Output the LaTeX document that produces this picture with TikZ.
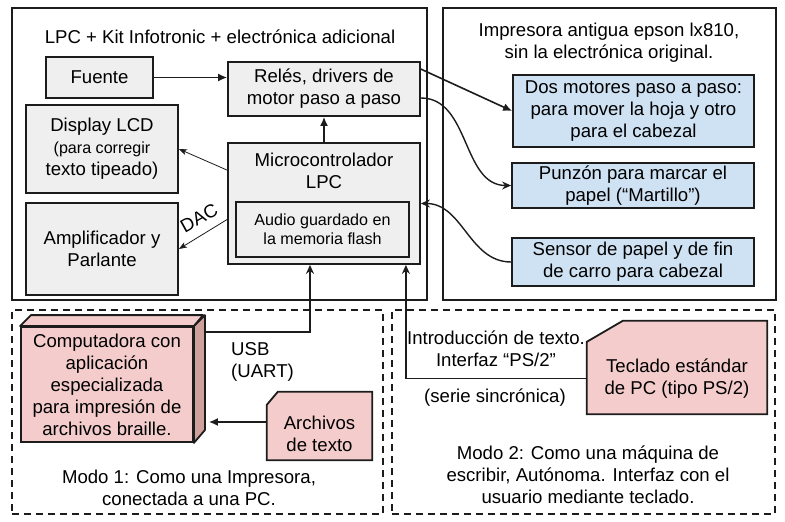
\documentclass[tikz,border=0pt]{standalone}
\usepackage{fontspec}
\setmainfont{Liberation Sans}
\usepackage{xcolor}
\usetikzlibrary{arrows,shapes,positioning,fit,arrows.meta,backgrounds,calc}
\definecolor{grisclaro}{HTML}{EFEFEF}
\definecolor{celeste}{HTML}{CFE2F3}
\definecolor{rosa}{HTML}{F4CCCC}
\definecolor{rosaosc}{HTML}{CFA19D}
\definecolor{borde}{HTML}{1C1C1C}
\newcommand{\txtgrande}{\fontsize{18.6}{22}\selectfont}
\newcommand{\txtchico}{\fontsize{16.1}{19}\selectfont}

\begin{document}
\begin{tikzpicture}[x=1pt,y=-1pt,
  bloque/.style={draw=borde, line width=1.8pt, fill=grisclaro, align=center, font=\txtgrande, inner sep=0pt},
  azul/.style={bloque, fill=celeste},
  marco/.style={draw=borde, line width=1.8pt, inner sep=0pt},
  modo/.style={draw=borde, line width=1.6pt, dash pattern=on 7pt off 5pt, inner sep=0pt},
  texto/.style={align=center, font=\txtgrande, inner sep=0pt},
  flecha/.style={draw=borde, line width=1.6pt, -{Latex[length=9pt,width=8pt]}},
  curva/.style={draw=borde, line width=1.4pt, -{Stealth[length=9pt,width=8pt,inset=3pt]}},
  fina/.style={draw=borde, line width=0.8pt, -{Stealth[length=8pt,width=6pt,inset=2pt]}}]
\useasboundingbox (0,0) rectangle (785,522);

% marcos
\node[marco, minimum width=415pt, minimum height=292pt] (lpcbox) at (219.5,154) {};
\node[marco, minimum width=333pt, minimum height=292pt] (impbox) at (609.5,154) {};
\node[modo, minimum width=371pt, minimum height=204pt] (modo1) at (197.5,412) {};
\node[modo, minimum width=383pt, minimum height=204pt] (modo2) at (583.5,412) {};

\node[texto] (lpctit) at (220,37) {LPC + Kit Infotronic + electrónica adicional};
\node[texto] (imptit) at (609,43) {Impresora antigua epson lx810,\\sin la electrónica original.};

% bloques de la placa
\node[bloque, minimum width=107pt, minimum height=41pt] (fuente) at (99.5,77.5) {Fuente};
\node[bloque, minimum width=192pt, minimum height=54pt] (reles) at (324,89) {Relés, drivers de\\motor paso a paso};
\node[bloque, minimum width=152pt, minimum height=88pt] (lcd) at (102,149) {Display LCD\\\txtchico (para corregir\\texto tipeado)};
\node[bloque, minimum width=152pt, minimum height=92pt] (amp) at (102,249) {Amplificador y\\Parlante};
\node[bloque, minimum width=192pt, minimum height=121pt] (micro) at (324,203.5) {};
\node[texto] (microtit) at (324,170.5) {Microcontrolador\\LPC};
\node[bloque, font=\txtchico, minimum width=173pt, minimum height=55pt] (audio) at (322.5,229.5) {Audio guardado en\\la memoria flash};

% bloques de la impresora
\node[azul, minimum width=241pt, minimum height=72pt] (motores) at (633.5,111) {Dos motores paso a paso:\\para mover la hoja y otro\\para el cabezal};
\node[azul, minimum width=242pt, minimum height=45pt] (punzon) at (633,185.5) {Punzón para marcar el\\papel (“Martillo”)};
\node[azul, minimum width=242pt, minimum height=48pt] (sensor) at (633,262) {Sensor de papel y de fin\\de carro para cabezal};

% modo 1
\node[bloque, fill=rosa, minimum width=172pt, minimum height=115pt] (compu) at (107,384.5) {Computadora con\\aplicación\\especializada\\para impresión de\\archivos braille.};
\draw[draw=borde, line width=1.8pt, fill=rosa, line join=round] (compu.north west) -- ++(11,-11) -- ++(172,0) -- (compu.north east) -- cycle;
\draw[draw=borde, line width=1.8pt, fill=rosaosc, line join=round] (compu.north east) -- ++(11,-11) -- ++(0,115) -- (compu.south east) -- cycle;
\coordinate (usb) at ($(compu.north east)+(11,6)$);
\coordinate (compuback) at ($(compu.east)+(15,0)$);
\node[texto, align=left, anchor=west] (usblbl) at (231,361.5) {USB\\(UART)};

\node[minimum width=105pt, minimum height=68pt, inner sep=0pt] (archivos) at (319.5,426) {};
\draw[draw=borde, line width=1.8pt, fill=rosa] ($(archivos.north west)+(0,13)$) -- ($(archivos.north west)+(11,0)$) -- (archivos.north east) -- (archivos.south east) -- (archivos.south west) -- cycle;
\node[texto] (archivostxt) at (319.5,434) {Archivos\\de texto};

\node[texto] (modo1tit) at (189,488) {Modo 1: Como una Impresora,\\conectada a una PC.};

% modo 2
\node[minimum width=180pt, minimum height=93pt, inner sep=0pt] (teclado) at (677,367.5) {};
\draw[draw=borde, line width=1.8pt, fill=rosa] ($(teclado.north west)+(0,21)$) -- ($(teclado.north west)+(36,0)$) -- (teclado.north east) -- (teclado.south east) -- (teclado.south west) -- cycle;
\node[texto] (tecladotxt) at (677,378.5) {Teclado estándar\\de PC (tipo PS/2)};
\node[texto] (ps2lbl) at (496,349) {Introducción de texto.\\Interfaz “PS/2”};
\node[texto] (serielbl) at (495,398) {(serie sincrónica)};
\node[texto] (modo2tit) at (588,475) {Modo 2: Como una máquina de\\escribir, Autónoma. Interfaz con el\\usuario mediante teclado.};

% conexiones
\draw[flecha] (fuente.east) -- (fuente.east -| reles.west);
\draw[flecha] (micro.north) -- (reles.south);
\draw[fina] ($(micro.north west)+(0,28)$) -- (lcd.east);
\draw[fina] ($(micro.west)+(0,16)$) -- (amp.east);
\node[texto, rotate=29] (daclbl) at (199,218) {DAC};
\draw[flecha] ($(reles.north east)+(0,8)$) -- (motores.west);
\draw[curva] ($(reles.east)+(0,9)$) to[out=0,in=180] (punzon.west);
\draw[curva] (sensor.west) to[out=180,in=0] (micro.east);
\draw[curva] (usb) -| ($(micro.south)+(-14,0)$);
\draw[curva] ($(teclado.west)+(0,11)$) -| ($(micro.south east)+(-15,0)$);
\draw[flecha] (archivos.west |- 0,422) -- (compuback |- 0,422);
\end{tikzpicture}
\end{document}
